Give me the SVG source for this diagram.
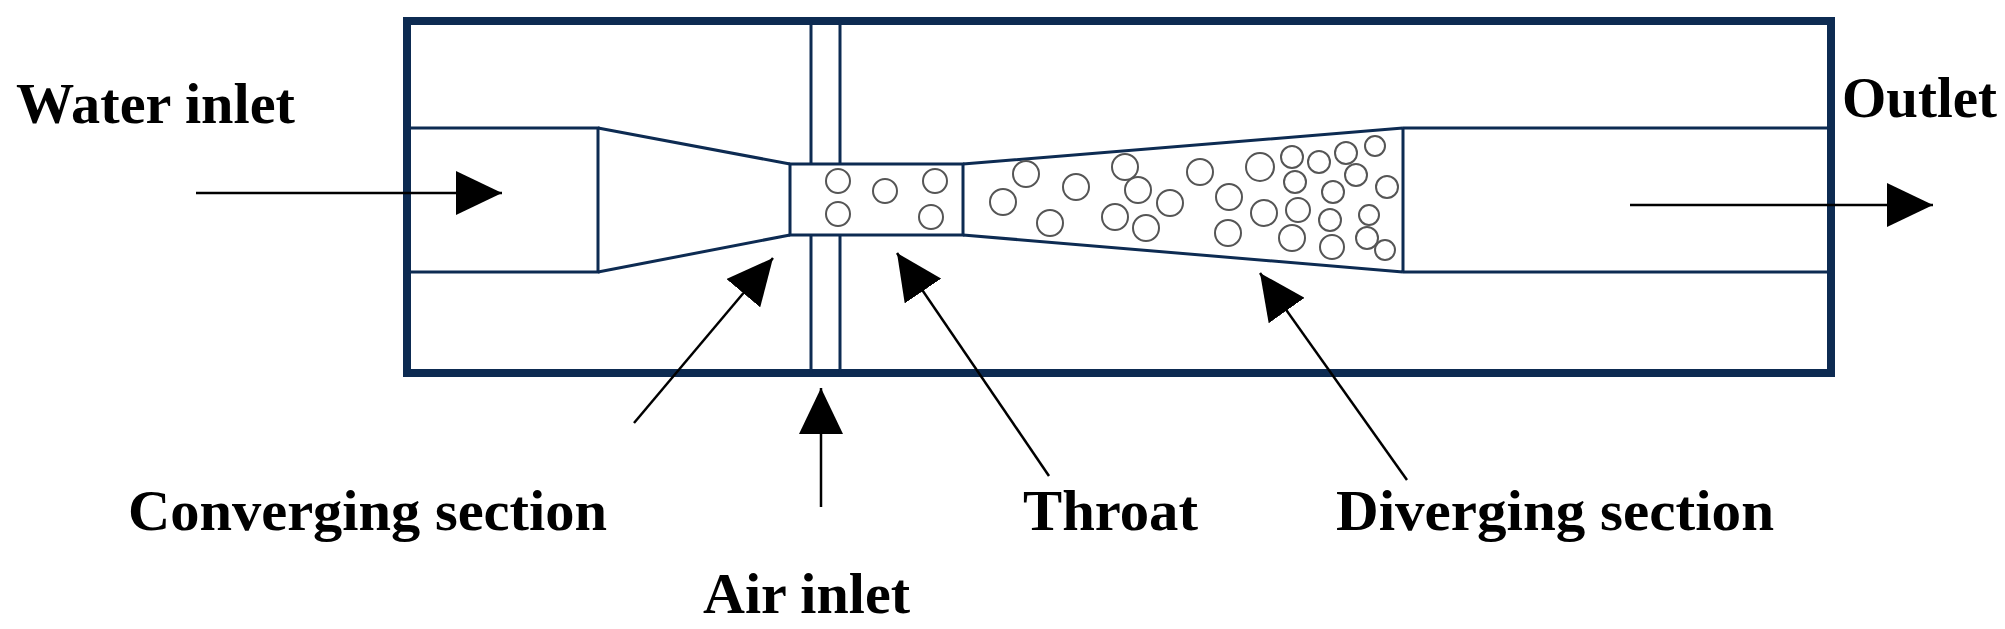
<svg xmlns="http://www.w3.org/2000/svg" width="2005" height="629" viewBox="0 0 2005 629">
<style>
.pipe{fill:none;stroke:#0d2b52;stroke-width:3}
.bub{fill:#fff;stroke:#555;stroke-width:2}
.lbl{font-family:"Liberation Serif",serif;font-weight:bold;font-size:56px;fill:#000}
.ptr{stroke:#000;stroke-width:2.5;fill:none;marker-end:url(#ah)}
</style>
<defs>
<marker id="ah" markerUnits="userSpaceOnUse" markerWidth="48" markerHeight="44" refX="46" refY="22" orient="auto"><path d="M0,0 L46,22 L0,44 Z" fill="#000"/></marker>
</defs>
<rect width="2005" height="629" fill="#fff"/>
<g id="venturi">
<rect x="407" y="21" width="1424" height="352" fill="none" stroke="#0d2b52" stroke-width="8"/>
<path class="pipe" d="M407,128 H598 V272 H407"/>
<path class="pipe" d="M598,128 L790,164 M598,272 L790,235"/>
<line class="pipe" x1="811" y1="21" x2="811" y2="164" stroke-width="2"/>
<line class="pipe" x1="840" y1="21" x2="840" y2="164" stroke-width="2"/>
<line class="pipe" x1="811" y1="235" x2="811" y2="373" stroke-width="2"/>
<line class="pipe" x1="840" y1="235" x2="840" y2="373" stroke-width="2"/>
<rect class="pipe" x="790" y="164" width="173" height="71"/>
<path class="pipe" d="M963,164 L1403,128 M963,235 L1403,272 M1403,128 V272"/>
<path class="pipe" d="M1403,128 H1831 M1403,272 H1831"/>
</g>
<g id="bubbles">
<circle class="bub" cx="838" cy="181" r="12"/><circle class="bub" cx="838" cy="214" r="12"/>
<circle class="bub" cx="885" cy="191" r="12"/><circle class="bub" cx="935" cy="181" r="12"/>
<circle class="bub" cx="931" cy="217" r="12"/>
<circle class="bub" cx="1003" cy="202" r="13"/><circle class="bub" cx="1026" cy="174" r="13"/>
<circle class="bub" cx="1076" cy="187" r="13"/><circle class="bub" cx="1050" cy="223" r="13"/>
<circle class="bub" cx="1125" cy="167" r="13"/><circle class="bub" cx="1138" cy="190" r="13"/>
<circle class="bub" cx="1170" cy="203" r="13"/><circle class="bub" cx="1115" cy="217" r="13"/>
<circle class="bub" cx="1146" cy="228" r="13"/><circle class="bub" cx="1200" cy="172" r="13"/>
<circle class="bub" cx="1229" cy="197" r="13"/><circle class="bub" cx="1228" cy="233" r="13"/>
<circle class="bub" cx="1264" cy="213" r="13"/><circle class="bub" cx="1260" cy="167" r="14"/>
<circle class="bub" cx="1292" cy="157" r="11"/><circle class="bub" cx="1319" cy="162" r="11"/>
<circle class="bub" cx="1346" cy="153" r="11"/><circle class="bub" cx="1375" cy="146" r="10"/>
<circle class="bub" cx="1295" cy="182" r="11"/><circle class="bub" cx="1333" cy="192" r="11"/>
<circle class="bub" cx="1356" cy="175" r="11"/><circle class="bub" cx="1387" cy="187" r="11"/>
<circle class="bub" cx="1298" cy="210" r="12"/><circle class="bub" cx="1330" cy="220" r="11"/>
<circle class="bub" cx="1369" cy="215" r="10"/><circle class="bub" cx="1292" cy="238" r="13"/>
<circle class="bub" cx="1332" cy="247" r="12"/><circle class="bub" cx="1367" cy="238" r="11"/>
<circle class="bub" cx="1385" cy="250" r="10"/>
</g>
<g id="connectors">
<line class="ptr" x1="196" y1="193" x2="502" y2="193"/>
<line class="ptr" x1="1630" y1="205" x2="1933" y2="205"/>
<line class="ptr" x1="634" y1="423" x2="773" y2="258"/>
<line class="ptr" x1="821" y1="507" x2="821" y2="388"/>
<line class="ptr" x1="1049" y1="476" x2="897" y2="253"/>
<line class="ptr" x1="1407" y1="480" x2="1260" y2="273"/>
</g>
<g id="labels">
<text class="lbl" x="16" y="123" textLength="279" lengthAdjust="spacingAndGlyphs">Water inlet</text>
<text class="lbl" x="1842" y="117" textLength="155" lengthAdjust="spacingAndGlyphs">Outlet</text>
<text class="lbl" x="128" y="530" textLength="479" lengthAdjust="spacingAndGlyphs">Converging section</text>
<text class="lbl" x="1023" y="530" textLength="175" lengthAdjust="spacingAndGlyphs">Throat</text>
<text class="lbl" x="1336" y="530" textLength="438" lengthAdjust="spacingAndGlyphs">Diverging section</text>
<text class="lbl" x="703" y="613" textLength="207" lengthAdjust="spacingAndGlyphs">Air inlet</text>
</g>
</svg>
